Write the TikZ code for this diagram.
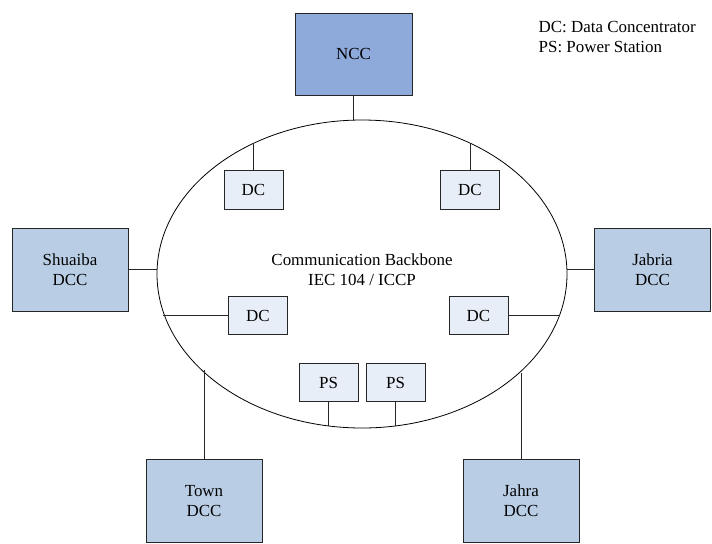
\documentclass[tikz,border=0pt]{standalone}
\usepackage{fontspec}
\setmainfont{Liberation Serif}
\usetikzlibrary{shapes.geometric}

\definecolor{nccblue}{RGB}{142,170,219}
\definecolor{dccblue}{RGB}{185,205,229}
\definecolor{dcblue}{RGB}{232,238,248}

\begin{document}
\begin{tikzpicture}[x=0.75pt,y=-0.75pt,
	font=\fontsize{12.7}{15}\selectfont,
	box/.style={draw=black!85,line width=0.75pt,align=center,inner sep=0pt},
	nccbox/.style={box,fill=nccblue,minimum width=87.75pt,minimum height=61.5pt},
	dccbox/.style={box,fill=dccblue,minimum width=87pt,minimum height=62.25pt},
	dcbox/.style={box,fill=dcblue,minimum width=44.25pt,minimum height=28.9pt},
	link/.style={draw=black!85,line width=0.6pt}]

\useasboundingbox (0,0) rectangle (712,543);

% backbone ring
\node[ellipse,draw,line width=0.6pt,minimum width=307.5pt,minimum height=231pt,inner sep=0pt] (backbone) at (362,274) {};
\node[align=center] (backbonetext) at (362,269.5) {Communication Backbone\\IEC 104 / ICCP};

% control centres
\node[nccbox] (ncc) at (353.5,54) {NCC};
\node[dccbox] (shuaiba) at (70,269.5) {Shuaiba\\DCC};
\node[dccbox] (jabria) at (652.5,269.5) {Jabria\\DCC};
\node[dccbox] (town) at (204,501) {Town\\DCC};
\node[dccbox] (jahra) at (521,501) {Jahra\\DCC};

% concentrators and stations
\node[dcbox] (dcnw) at (253.5,190) {DC};
\node[dcbox] (dcne) at (470,190) {DC};
\node[dcbox] (dcw) at (258,315.5) {DC};
\node[dcbox] (dce) at (478.5,315.5) {DC};
\node[dcbox] (psa) at (328.5,382.5) {PS};
\node[dcbox] (psb) at (395.5,382.5) {PS};

% legend
\node[anchor=west,align=left] (legend) at (534,37) {DC: Data Concentrator\\PS: Power Station};

% links to the ring
\draw[link] (ncc.south) -- (ncc.south |- backbone.north);
\draw[link] (shuaiba.east) -- (shuaiba.east -| backbone.west);
\draw[link] (jabria.west) -- (jabria.west -| backbone.east);
\draw[link] (town.north) -- (town.north |- backbone.211.4);
\draw[link] (jahra.north) -- (jahra.north |- backbone.328.2);
\draw[link] (dcnw.north) -- (dcnw.north |- backbone.130);
\draw[link] (dcne.north) -- (dcne.north |- backbone.50.5);
\draw[link] (dcw.west) -- (dcw.west -| backbone.191.7);
\draw[link] (dce.east) -- (dce.east -| backbone.348.3);
\draw[link] (psa.south) -- (psa.south |- backbone.257.75);
\draw[link] (psb.south) -- (psb.south |- backbone.282.6);

\end{tikzpicture}
\end{document}
